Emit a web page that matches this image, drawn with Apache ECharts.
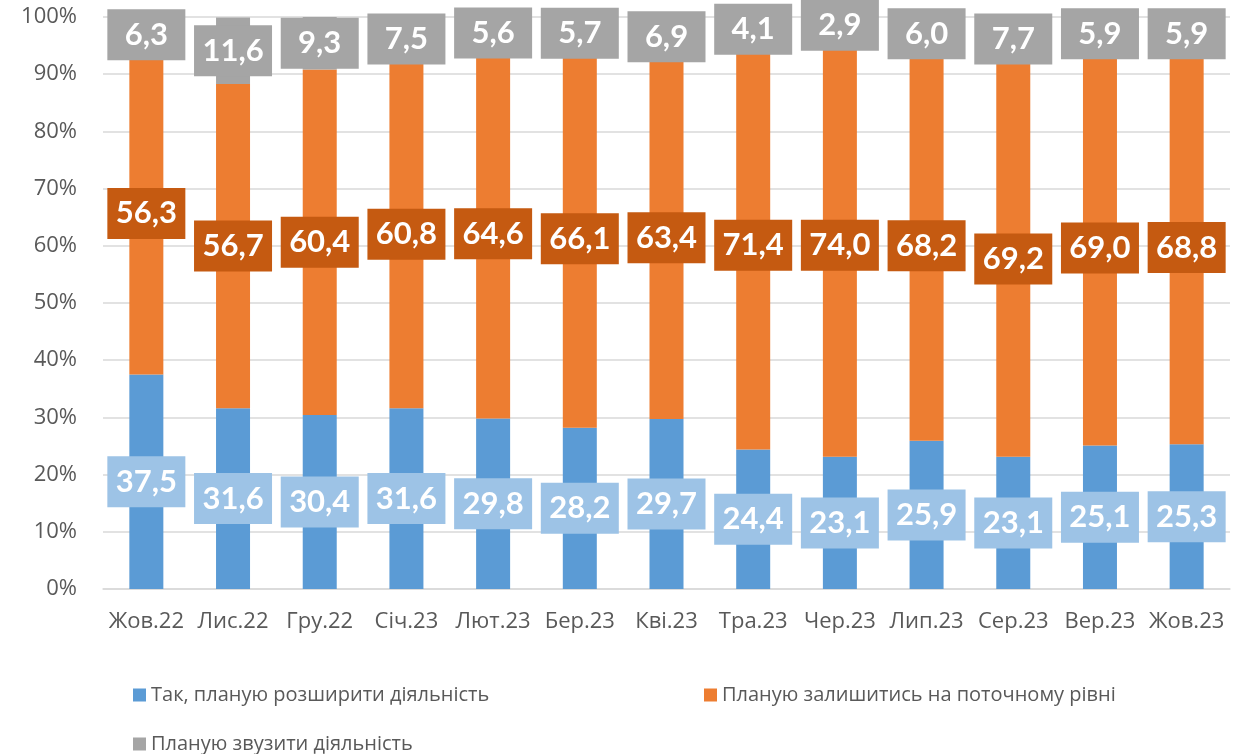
<!DOCTYPE html>
<html>
<head>
<meta charset="utf-8">
<script src="https://cdn.jsdelivr.net/npm/echarts@6/dist/echarts.min.js"></script>
<style>
  html, body { margin: 0; padding: 0; background: #fff; }
  #chart { width: 1243px; height: 754px; }
</style>
</head>
<body>
<div id="chart"></div>
<script>
var months = ['Жов.22', 'Лис.22', 'Гру.22', 'Січ.23', 'Лют.23', 'Бер.23', 'Кві.23', 'Тра.23', 'Чер.23', 'Лип.23', 'Сер.23', 'Вер.23', 'Жов.23'];
var expand = [37.5, 31.6, 30.4, 31.6, 29.8, 28.2, 29.7, 24.4, 23.1, 25.9, 23.1, 25.1, 25.3];
var stay = [56.3, 56.7, 60.4, 60.8, 64.6, 66.1, 63.4, 71.4, 74.0, 68.2, 69.2, 69.0, 68.8];
var shrink = [6.3, 11.6, 9.3, 7.5, 5.6, 5.7, 6.9, 4.1, 2.9, 6.0, 7.7, 5.9, 5.9];
var names = ['Так, планую розширити діяльність', 'Планую залишитись на поточному рівні', 'Планую звузити діяльність'];

var font = '"Open Sans", sans-serif';

function boxLabel(bg) {
    return {
        show: true,
        position: 'inside',
        backgroundColor: bg,
        color: '#fff',
        fontFamily: 'Lato, sans-serif',
        fontWeight: 'bold',
        fontSize: 31,
        width: 62,
        height: 35,
        lineHeight: 35,
        align: 'center',
        padding: [8, 8],
        formatter: function (p) {
            return p.value.toFixed(1).replace('.', ',');
        }
    };
}

function legendItem(name, left, top) {
    return {
        data: [name],
        left: left,
        top: top,
        icon: 'rect',
        itemWidth: 13,
        itemHeight: 13,
        itemGap: 7,
        textStyle: { color: '#595959', fontSize: 20, fontFamily: font }
    };
}

var myChart = echarts.init(document.getElementById('chart'));
var option = {
    animation: false,
    grid: { left: 103, right: 13, top: 17, bottom: 165 },
    legend: [
        legendItem(names[0], 128, 680),
        legendItem(names[1], 699, 680),
        legendItem(names[2], 128, 729)
    ],
    xAxis: {
        type: 'category',
        data: months,
        axisTick: { show: false },
        axisLine: { lineStyle: { color: '#D9D9D9', width: 1.5 } },
        axisLabel: {
            color: '#595959', fontSize: 22, fontFamily: font, margin: 22,
            interval: 0, hideOverlap: false
        }
    },
    yAxis: {
        type: 'value',
        min: 0,
        max: 100,
        interval: 10,
        axisLine: { show: false },
        axisTick: { show: false },
        splitLine: { lineStyle: { color: '#D9D9D9', width: 1.5 } },
        axisLabel: {
            color: '#595959', fontSize: 22, fontFamily: font, margin: 26,
            formatter: '{value}%'
        }
    },
    series: [
        {
            name: names[0], type: 'bar', stack: 'all', barWidth: 34,
            itemStyle: { color: '#5B9BD5' },
            label: boxLabel('#9DC3E6'),
            data: expand
        },
        {
            name: names[1], type: 'bar', stack: 'all', barWidth: 34,
            itemStyle: { color: '#ED7D31' },
            label: boxLabel('#C55A11'),
            data: stay
        },
        {
            name: names[2], type: 'bar', stack: 'all', barWidth: 34,
            itemStyle: { color: '#A5A5A5' },
            label: boxLabel('#A5A5A5'),
            data: shrink
        }
    ]
};
myChart.setOption(option);
</script>
</body>
</html>
